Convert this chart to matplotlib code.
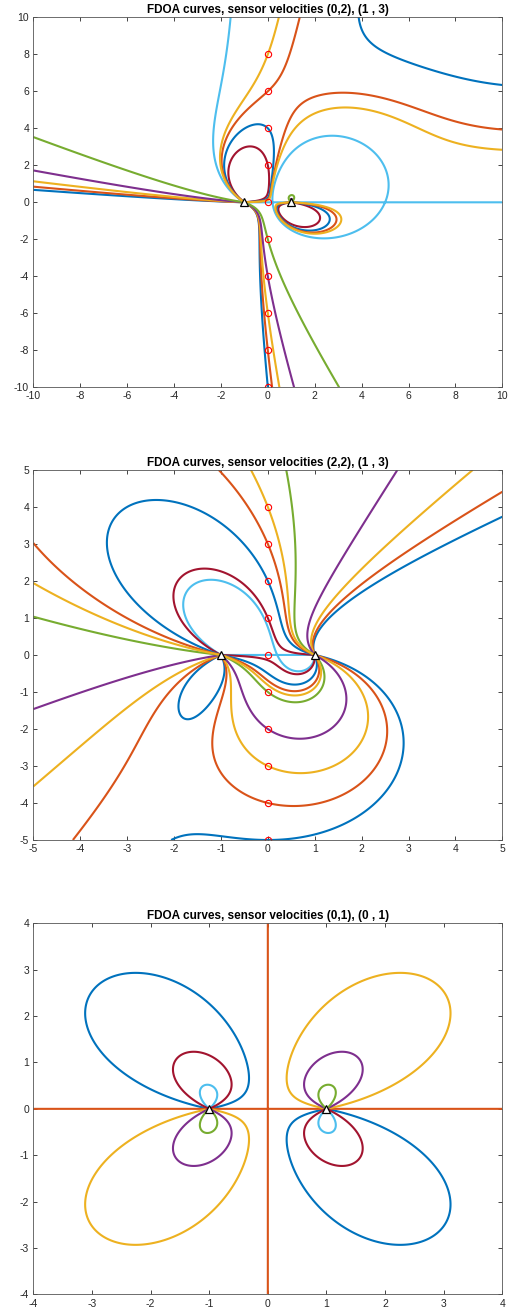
import numpy as np
import matplotlib
matplotlib.use('Agg')
import matplotlib.pyplot as plt

plt.rcParams['font.family'] = ['Liberation Sans', 'DejaVu Sans']

# sensors (first sensor at (1,0), second at (-1,0))
sensor_x = [1, -1]
sensor_y = [0, 0]

# sensor velocities for each panel
vel_1 = [(0, 2), (1, 3)]
vel_2 = [(2, 2), (1, 3)]
vel_3 = [(0, 1), (0, 1)]

# points on the y axis that pick the FDOA level of each curve
marker_y1 = [-10, -8, -6, -4, -2, 0, 2, 4, 6, 8]
marker_y2 = [-5, -4, -3, -2, -1, 0, 1, 2, 3, 4]
# FDOA levels of the last panel (y axis is all zero there)
levels_3 = [-0.25, 0, 0.25, 0.5, 0.75, -0.75, -0.5]

colors = ['#0072BD', '#D95319', '#EDB120', '#7E2F8E', '#77AC30', '#4DBEEE', '#A2142F']


def fdoa(x, y, vels):
    # v1 . u1 - v2 . u2, u = unit vector from sensor to emitter
    f = 0.0
    for k, sgn in enumerate([1, -1]):
        dx = x - sensor_x[k]
        dy = y - sensor_y[k]
        r = np.hypot(dx, dy)
        f = f + sgn * (vels[k][0] * dx + vels[k][1] * dy) / r
    return f


def panel(ax, vels, lim, step, levels, marks=None):
    g = np.linspace(-lim, lim, 1400)
    X, Y = np.meshgrid(g, g)
    with np.errstate(divide='ignore', invalid='ignore'):
        F = fdoa(X, Y, vels)
    for i, lv in enumerate(levels):
        ax.contour(X, Y, F, levels=[lv], colors=[colors[i % 7]], linewidths=1.5,
                   linestyles='solid')
    if marks is not None:
        ax.plot(np.zeros(len(marks)), marks, 'o', mfc='none', mec='red', ms=4.5, mew=0.8)
    ax.plot(sensor_x, sensor_y, '^', mfc='white', mec='black', ms=5.5, mew=0.9)
    ax.set_xlim(-lim, lim)
    ax.set_ylim(-lim, lim)
    ticks = np.arange(-lim, lim + 0.001, step)
    ax.set_xticks(ticks)
    ax.set_yticks(ticks)
    ax.set_xticklabels([f'{t:g}' for t in ticks])
    ax.set_yticklabels([f'{t:g}' for t in ticks])
    ax.tick_params(direction='in', length=3, width=0.6, colors='#262626', labelsize=7.5,
                   top=True, right=True, pad=3)
    for s in ax.spines.values():
        s.set_linewidth(0.6)
        s.set_color('#555555')
    ax.set_title(f'FDOA curves, sensor velocities ({vels[0][0]},{vels[0][1]}), ({vels[1][0]} , {vels[1][1]})',
                 fontsize=8.5, fontweight='bold', pad=3)


fig = plt.figure(figsize=(5.19, 13.09), dpi=100)
ax1 = fig.add_axes([0.0642, 0.7041, 0.9037, 0.2827])
ax2 = fig.add_axes([0.0642, 0.3583, 0.9037, 0.2827])
ax3 = fig.add_axes([0.0642, 0.0112, 0.9037, 0.2834])

lv1 = [fdoa(0.0, y, vel_1) for y in marker_y1]
lv2 = [fdoa(0.0, y, vel_2) for y in marker_y2]

panel(ax1, vel_1, 10, 2, lv1, marker_y1)
panel(ax2, vel_2, 5, 1, lv2, marker_y2)
panel(ax3, vel_3, 4, 1, levels_3)

fig.savefig('out.png', dpi=100)
